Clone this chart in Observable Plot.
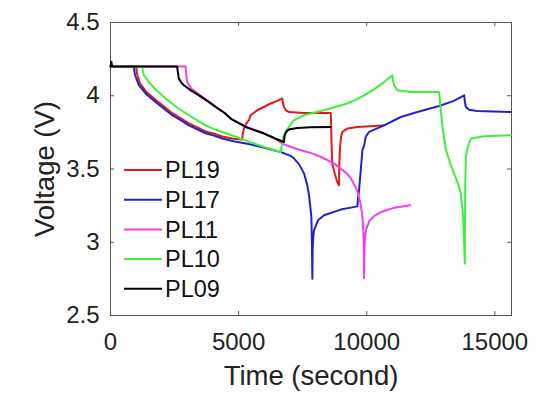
<!DOCTYPE html>
<html><head><meta charset="utf-8">
<script src="https://cdn.jsdelivr.net/npm/d3@7"></script>
<script src="https://cdn.jsdelivr.net/npm/@observablehq/plot@0.6"></script>
<style>body{margin:0;background:#fff}</style>
</head><body><div id="chart"></div>
<script>
const xTicks = [0, 5000, 10000, 15000];
const yTicks = [2.5, 3, 3.5, 4, 4.5];
const xDomain = [0, 15650];
const yDomain = [2.5, 4.5];
const seriesNames = ["PL19", "PL17", "PL11", "PL10", "PL09"];
const seriesColors = ["#e3191c", "#1f24c8", "#f03ef0", "#3ef03e", "#000000"];

const pl19 = [[0,4.2],[1003,4.2],[1020,4.17],[1050,4.14],[1150,4.085],[1400,4.025],[1758,3.972],[2100,3.924],[2410,3.881],[2734,3.847],[3060,3.812],[3711,3.756],[4036,3.741],[4362,3.722],[4800,3.707],[5143,3.702],[5160,3.74],[5208,3.776],[5300,3.81],[5403,3.833],[5468,3.867],[5729,3.901],[6250,3.947],[6500,3.965],[6706,3.981],[6730,3.95],[6771,3.924],[6850,3.9],[6966,3.889],[7552,3.883],[8594,3.883],[8610,3.8],[8630,3.65],[8658,3.53],[8789,3.445],[8850,3.41],[8919,3.389],[8925,3.49],[8945,3.6],[8965,3.66],[9000,3.72],[9050,3.753],[9245,3.776],[9636,3.787],[10156,3.792],[10677,3.798]];
const pl17 = [[0,4.2],[911,4.2],[930,4.17],[960,4.14],[1107,4.072],[1400,4.01],[1758,3.958],[2100,3.91],[2410,3.867],[2734,3.833],[3060,3.798],[3711,3.744],[4036,3.728],[4362,3.708],[4800,3.69],[5339,3.673],[6000,3.645],[6641,3.616],[7031,3.59],[7161,3.571],[7350,3.535],[7552,3.47],[7680,3.39],[7747,3.32],[7800,3.24],[7839,3.172],[7860,3.0],[7878,2.751],[7890,2.95],[7915,3.04],[7943,3.081],[8100,3.15],[8333,3.184],[8984,3.223],[9636,3.245],[9660,3.3],[9700,3.355],[9766,3.491],[9831,3.628],[9896,3.66],[9960,3.72],[10091,3.753],[10677,3.798],[11328,3.855],[11979,3.889],[12826,3.93],[13400,3.965],[13802,4.003],[13830,3.96],[13867,3.924],[14000,3.905],[14300,3.896],[15625,3.889]];
const pl11 = [[0,4.2],[2930,4.2],[2950,4.15],[2990,4.095],[3150,4.05],[3450,4.01],[3800,3.965],[4101,3.926],[4450,3.884],[4720,3.842],[5273,3.789],[5989,3.744],[6400,3.712],[6700,3.672],[7300,3.635],[7900,3.605],[8300,3.575],[8700,3.54],[9000,3.5],[9250,3.465],[9400,3.43],[9550,3.38],[9650,3.34],[9750,3.27],[9830,3.18],[9870,3.08],[9890,2.9],[9896,2.755],[9910,2.95],[9935,3.04],[9980,3.09],[10100,3.145],[10300,3.18],[10550,3.205],[11070,3.236],[11700,3.252]];
const pl10 = [[0,4.2],[1237,4.2],[1260,4.17],[1300,4.14],[1497,4.094],[1800,4.035],[2148,3.981],[2600,3.92],[3060,3.867],[3711,3.798],[4036,3.772],[4362,3.753],[5012,3.712],[5339,3.69],[6000,3.65],[6641,3.616],[6660,3.64],[6706,3.673],[6750,3.72],[6850,3.76],[6966,3.787],[7161,3.833],[7552,3.867],[8203,3.896],[8700,3.92],[9245,3.947],[9600,3.975],[9896,4.003],[10300,4.045],[10677,4.094],[11003,4.14],[11030,4.1],[11068,4.072],[11198,4.038],[11719,4.026],[12826,4.026],[12850,3.98],[12865,3.947],[12957,3.787],[13080,3.64],[13250,3.54],[13411,3.468],[13560,3.4],[13672,3.332],[13740,3.22],[13763,3.172],[13800,3.0],[13828,2.854],[13835,3.1],[13845,3.4],[13867,3.582],[13932,3.64],[14063,3.708],[14583,3.723],[15625,3.73]];
const pl09 = [[0,4.2],[35,4.232],[60,4.2],[2600,4.2],[2630,4.16],[2670,4.117],[2760,4.09],[2865,4.072],[3150,4.035],[3450,4.003],[3800,3.962],[4101,3.924],[4450,3.882],[4720,3.84],[5273,3.787],[5989,3.742],[6400,3.71],[6770,3.684],[6790,3.72],[6830,3.745],[6900,3.762],[7000,3.772],[7300,3.78],[7800,3.785],[8600,3.787]];

const allSeries = [pl19, pl17, pl11, pl10, pl09];
const data = allSeries.flatMap((arr, i) => arr.map(([t, v]) => ({series: seriesNames[i], t, v})));

const font = "Liberation Sans, Arial, Helvetica, sans-serif";
const frameColor = "#555";
const tickLenV = 0.027, tickLenT = 156;

function legendMark() {
  const g = d3.create("svg:g");
  seriesNames.forEach((n, i) => {
    const y = 22 + 148 + i * 29.7;
    g.append("line").attr("x1", 124).attr("x2", 162).attr("y1", y).attr("y2", y)
      .attr("stroke", seriesColors[i]).attr("stroke-width", 2);
    g.append("text").attr("x", 165).attr("y", y).attr("dy", "0.35em")
      .attr("text-anchor", "start")
      .attr("font-size", 23.5).attr("font-family", font).attr("fill", "#111").text(n);
  });
  return g.node();
}

const chart = Plot.plot({
  width: 554, height: 401,
  marginLeft: 110, marginRight: 43, marginTop: 22, marginBottom: 86,
  style: {fontFamily: font, fontSize: "24px", color: "#222", background: "#fff"},
  x: {domain: xDomain, label: null},
  y: {domain: yDomain, label: null},
  color: {domain: seriesNames, range: seriesColors},
  marks: [
    Plot.frame({stroke: frameColor}),
    Plot.ruleX(xTicks, {x: d => d, y1: yDomain[0], y2: yDomain[0] + tickLenV, stroke: frameColor}),
    Plot.ruleX(xTicks, {x: d => d, y1: yDomain[1] - tickLenV, y2: yDomain[1], stroke: frameColor}),
    Plot.ruleY(yTicks, {y: d => d, x1: xDomain[0], x2: xDomain[0] + tickLenT, stroke: frameColor}),
    Plot.ruleY(yTicks, {y: d => d, x1: xDomain[1] - tickLenT, x2: xDomain[1], stroke: frameColor}),
    Plot.axisX(xTicks, {tickSize: 0, tickPadding: 17, tickFormat: d => String(d), fontSize: 24, label: null}),
    Plot.axisY(yTicks, {tickSize: 0, tickPadding: 11, tickFormat: d => String(d), fontSize: 24, label: null}),
    Plot.line(data, {x: "t", y: "v", z: "series", stroke: "series", strokeWidth: 2, strokeLinejoin: "round"}),
    Plot.text(["Time (second)"], {text: d => d, frameAnchor: "bottom", lineAnchor: "top", textAnchor: "middle", dy: 50, fontSize: 27.5, fill: "#222"}),
    Plot.text(["Voltage (V)"], {text: d => d, frameAnchor: "left", textAnchor: "middle", lineAnchor: "middle", rotate: -90, dx: -65, fontSize: 27.5, fill: "#222"}),
    legendMark
  ]
});
document.getElementById("chart").appendChild(chart);
</script>
</body></html>
